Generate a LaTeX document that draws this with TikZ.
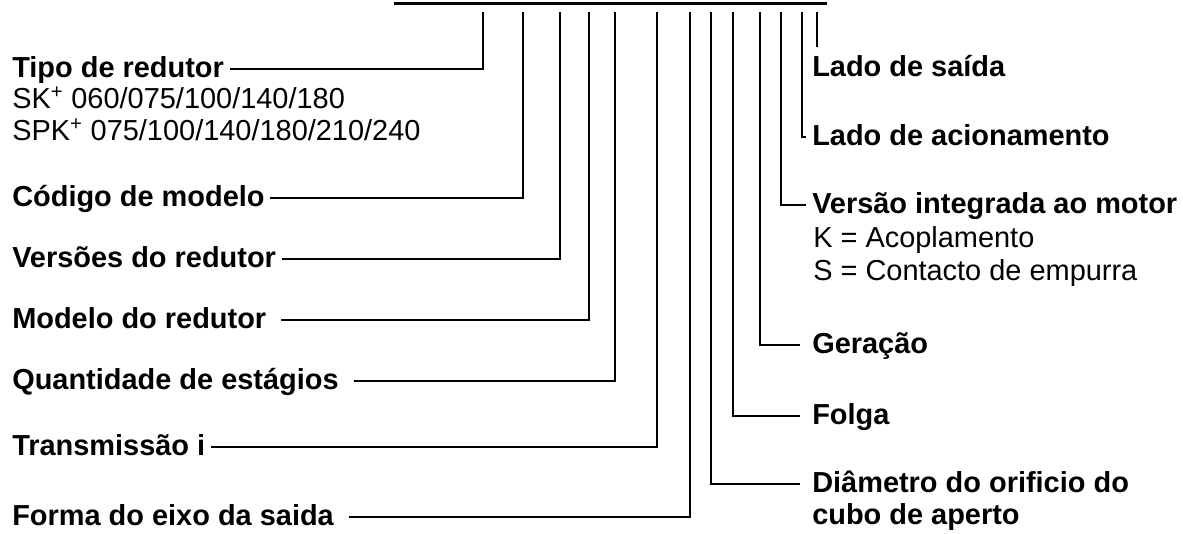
\documentclass[tikz,border=0pt]{standalone}
\usepackage{fontspec}
\setmainfont{Liberation Sans}

\begin{document}
\begin{tikzpicture}[x=0.75pt, y=-0.75pt,
  every node/.style={font=\fontsize{21.7}{26}\selectfont, inner sep=0pt, anchor=west, text height=13pt, text depth=0pt},
  lbl/.style={font=\fontsize{21.7}{26}\selectfont\bfseries},
  lead/.style={line width=2.2pt},
  leadl/.style={lead, shorten <=4pt},
  leadw/.style={lead, shorten <=11pt},
  leadr/.style={lead, shorten >=9pt},
  hook/.style={lead, shorten >=4.5pt}]
  \useasboundingbox (0,0) rectangle (1183,534);

  % code bar and tick points
  \draw[line width=2.4pt] (394,3.5) -- (827,3.5);
  \foreach \n/\x in {1/483,2/523,3/560,4/589,5/615,6/657,7/690,8/711,9/733,10/760,11/781,12/802,13/817}
    \coordinate (t\n) at (\x,12);

  % left labels
  \node[lbl] (tipo) at (12,69) {Tipo de redutor};
  \node (tipo1) at (12,100) {SK\textsuperscript{+} 060/075/100/140/180};
  \node (tipo2) at (12,132) {SPK\textsuperscript{+} 075/100/140/180/210/240};
  \node[lbl] (codigo) at (12,198) {Código de modelo};
  \node[lbl] (versoes) at (12,259) {Versões do redutor};
  \node[lbl] (modelo) at (12,320) {Modelo do redutor};
  \node[lbl] (estagios) at (12,381) {Quantidade de estágios};
  \node[lbl] (transm) at (12,447) {Transmissão i};
  \node[lbl] (eixo) at (12,517) {Forma do eixo da saida};

  % right labels
  \node[lbl] (saida) at (812,68) {Lado de saída};
  \node[lbl] (acion) at (812,137) {Lado de acionamento};
  \node[lbl] (versao) at (812,205) {Versão integrada ao motor};
  \node (versao1) at (813,239) {K = Acoplamento};
  \node (versao2) at (813,272) {S = Contacto de empurra};
  \node[lbl] (geracao) at (812,345) {Geração};
  \node[lbl] (folga) at (812,416) {Folga};
  \node[lbl] (diam) at (812,484) {Diâmetro do orificio do};
  \node[lbl] (diam2) at (812,516) {cubo de aperto};

  % leaders
  \draw[leadl] (tipo.east) -| (t1);
  \draw[leadl] (codigo.east) -| (t2);
  \draw[leadl] (versoes.east) -| (t3);
  \draw[leadw] (modelo.east) -| (t4);
  \draw[leadw] (estagios.east) -| (t5);
  \draw[leadl] (transm.east) -| (t6);
  \draw[leadw] (eixo.east) -| (t7);
  \draw[leadr] (t8) |- (diam.west);
  \draw[leadr] (t9) |- (folga.west);
  \draw[leadr] (t10) |- (geracao.west);
  \draw[hook] (t11) |- (versao.west);
  \draw[hook] (t12) |- (acion.west);
  \draw[lead] (t13) -- (t13 |- 0,47);
\end{tikzpicture}
\end{document}
